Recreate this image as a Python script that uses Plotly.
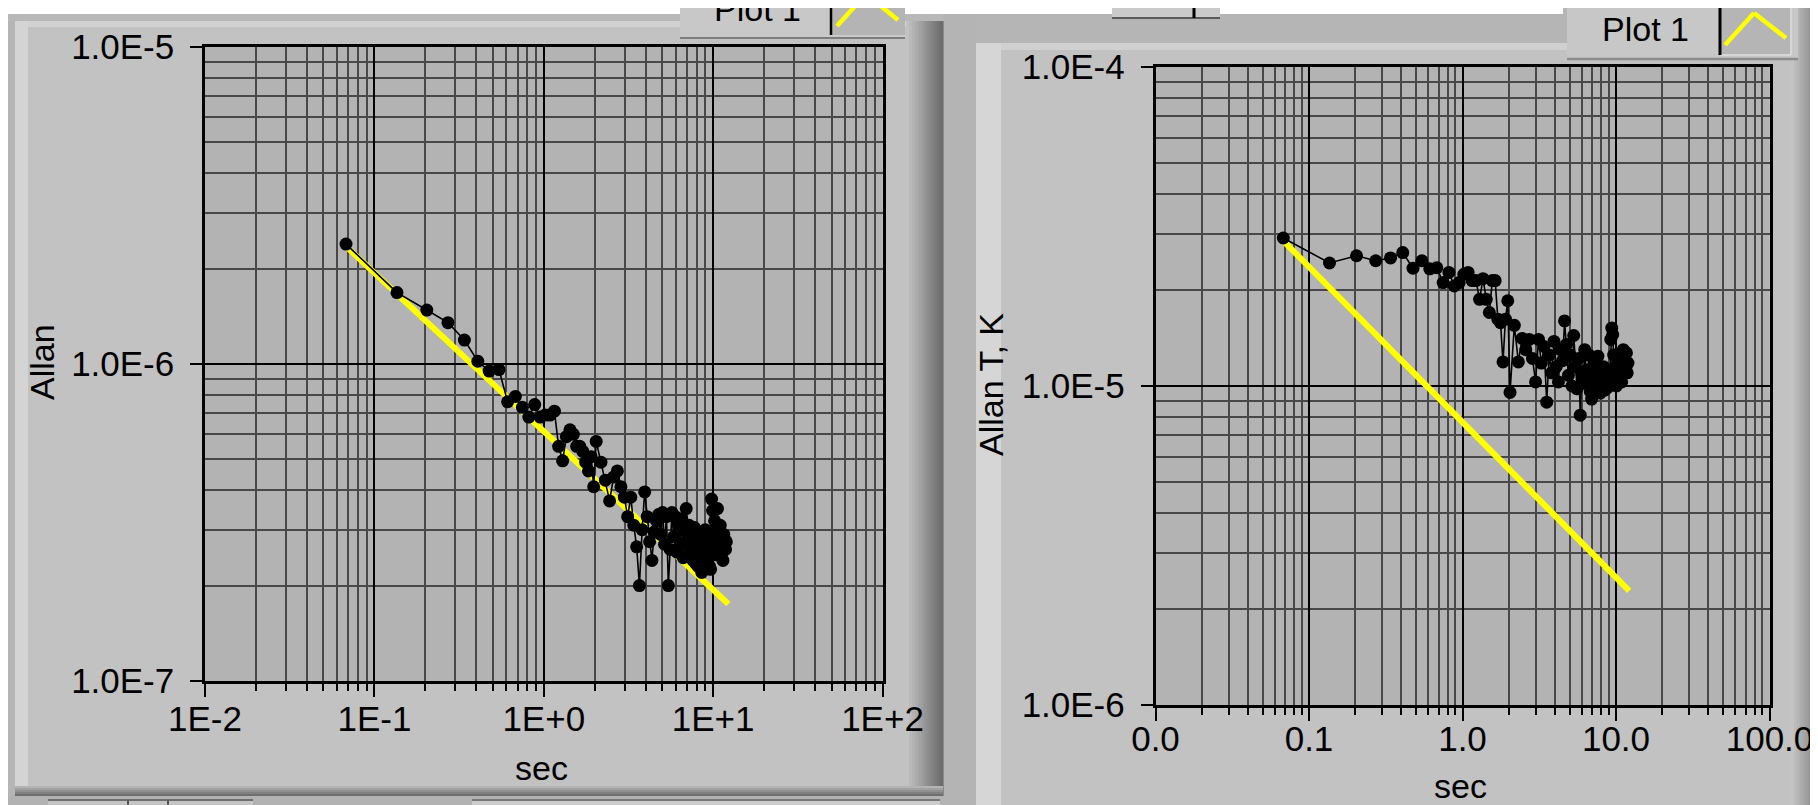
import plotly.graph_objects as go

W, H = 1818, 805

# ---------------- data ----------------
tau = [
    0.068, 0.136, 0.204, 0.272, 0.340, 0.408, 0.476, 0.544, 0.612, 0.680,
    0.748, 0.816, 0.884, 0.952, 1.020, 1.088, 1.156, 1.224, 1.292, 1.360,
    1.428, 1.496, 1.564, 1.632, 1.700, 1.768, 1.836, 1.904, 1.972, 2.040,
    2.176, 2.312, 2.448, 2.584, 2.720, 2.856, 2.992, 3.128, 3.264, 3.400,
    3.536, 3.672, 3.808, 3.944, 4.080, 4.216, 4.352, 4.488, 4.624, 4.760,
    4.896, 5.032, 5.168, 5.304, 5.440, 5.576, 5.712, 5.848, 5.984, 6.120,
    6.256, 6.392, 6.528, 6.664, 6.800, 6.936, 7.072, 7.208, 7.344, 7.480,
    7.616, 7.752, 7.888, 8.024, 8.160, 8.296, 8.432, 8.568, 8.704, 8.840,
    8.976, 9.112, 9.248, 9.384, 9.520, 9.656, 9.792, 9.928, 10.064, 10.200,
    10.336, 10.472, 10.608, 10.744, 10.880, 11.016, 11.152, 11.288, 11.424, 11.560,
    11.696, 11.832, 11.968,
]

allan_left = [
    2.39e-6, 1.68e-6, 1.48e-6, 1.35e-6, 1.19e-6, 1.02e-6, 9.5e-7, 9.6e-7, 7.6e-7, 7.9e-7,
    7.3e-7, 6.8e-7, 7.45e-7, 6.8e-7, 6.9e-7, 6.9e-7, 7.1e-7, 5.5e-7, 4.95e-7, 5.9e-7,
    6.2e-7, 6.0e-7, 5.5e-7, 5.5e-7, 5.3e-7, 4.9e-7, 4.6e-7, 5.1e-7, 4.1e-7, 5.7e-7,
    4.9e-7, 4.3e-7, 3.7e-7, 4.4e-7, 4.6e-7, 4.1e-7, 3.8e-7, 3.3e-7, 3.8e-7, 3.1e-7,
    2.65e-7, 2.0e-7, 3.0e-7, 3.95e-7, 3.3e-7, 2.75e-7, 2.4e-7, 2.95e-7, 3.2e-7, 3.35e-7,
    2.9e-7, 3.4e-7, 2.7e-7, 3.3e-7, 2.0e-7, 2.6e-7, 3.4e-7, 2.85e-7, 3.3e-7, 2.55e-7,
    3.1e-7, 2.7e-7, 3.25e-7, 2.45e-7, 3.0e-7, 3.5e-7, 2.8e-7, 3.1e-7, 2.6e-7, 2.85e-7,
    2.4e-7, 3.05e-7, 2.35e-7, 2.7e-7, 2.3e-7, 2.95e-7, 2.5e-7, 2.2e-7, 2.75e-7, 2.4e-7,
    3.0e-7, 2.6e-7, 2.35e-7, 2.8e-7, 2.3e-7, 2.25e-7, 3.75e-7, 3.45e-7, 2.7e-7, 3.2e-7,
    2.5e-7, 2.9e-7, 3.5e-7, 3.0e-7, 2.6e-7, 3.1e-7, 2.5e-7, 2.75e-7, 2.4e-7, 2.9e-7,
    2.8e-7, 2.6e-7, 2.75e-7,
]

allan_temp = [
    2.91e-5, 2.43e-5, 2.56e-5, 2.47e-5, 2.52e-5, 2.62e-5, 2.34e-5, 2.47e-5, 2.33e-5, 2.35e-5,
    2.11e-5, 2.27e-5, 2.06e-5, 2.11e-5, 2.24e-5, 2.27e-5, 2.14e-5, 2.14e-5, 1.87e-5, 2.17e-5,
    1.87e-5, 1.70e-5, 2.14e-5, 2.14e-5, 1.62e-5, 1.58e-5, 1.19e-5, 1.62e-5, 1.85e-5, 9.55e-6,
    1.55e-5, 1.19e-5, 1.41e-5, 1.30e-5, 1.40e-5, 1.22e-5, 1.03e-5, 1.40e-5, 1.18e-5, 1.33e-5,
    8.9e-6, 1.25e-5, 1.10e-5, 1.38e-5, 1.15e-5, 1.03e-5, 1.30e-5, 1.20e-5, 1.60e-5, 1.35e-5,
    1.08e-5, 1.25e-5, 1.00e-5, 1.44e-5, 1.15e-5, 9.8e-6, 1.22e-5, 8.1e-6, 1.10e-5, 1.02e-5,
    1.30e-5, 1.12e-5, 1.05e-5, 1.25e-5, 9.6e-6, 9.1e-6, 1.15e-5, 1.05e-5, 1.20e-5, 9.8e-6,
    1.24e-5, 1.10e-5, 9.5e-6, 1.08e-5, 1.00e-5, 1.15e-5, 9.7e-6, 1.05e-5, 1.12e-5, 9.9e-6,
    1.08e-5, 1.02e-5, 1.40e-5, 1.52e-5, 1.45e-5, 1.25e-5, 1.05e-5, 1.15e-5, 1.00e-5, 1.10e-5,
    1.20e-5, 1.03e-5, 1.08e-5, 1.25e-5, 1.03e-5, 1.15e-5, 1.30e-5, 1.12e-5, 1.22e-5, 1.19e-5,
    1.27e-5, 1.10e-5, 1.18e-5,
]

fit_tau_left = [0.068, 0.7, 3.0, 12.3]
fit_left = [2.35e-6, 7.32e-7, 3.54e-7, 1.75e-7]
fit_tau_right = [0.068, 0.6, 3.0, 12.2]
fit_right = [2.85e-5, 9.9e-6, 4.5e-6, 2.28e-6]

x_ticks = [0.01, 0.1, 1, 10, 100]
x_text_left = ["1E-2", "1E-1", "1E+0", "1E+1", "1E+2"]
x_text_right = ["0.0", "0.1", "1.0", "10.0", "100.0"]
y_ticks_left = [1e-7, 1e-6, 1e-5]
y_text_left = ["1.0E-7", "1.0E-6", "1.0E-5"]
y_ticks_right = [1e-6, 1e-5, 1e-4]
y_text_right = ["1.0E-6", "1.0E-5", "1.0E-4"]

# ---------------- styling ----------------
FONT = "Liberation Sans"
FS = 35
YELLOW = "#ffff00"
PANEL = "rgb(194,194,194)"
PLOTBG = "rgb(179,179,179)"
MINOR = "rgb(72,72,72)"


def px(x):
    return x / W


def py(y):
    return 1 - y / H


def gray(v):
    return f"rgb({v},{v},{v})"


shapes = []


def rect(x0, y0, x1, y1, color, layer="below"):
    shapes.append(dict(type="rect", xref="paper", yref="paper",
                       x0=px(x0), x1=px(x1), y0=py(y1), y1=py(y0),
                       fillcolor=color, line=dict(width=0), layer=layer))


def hgrad(x0, x1, y0, y1, v0, v1, n):
    step = (x1 - x0) / n
    for i in range(n):
        v = round(v0 + (v1 - v0) * i / (n - 1))
        rect(x0 + i * step, y0, x0 + (i + 1) * step + 0.6, y1, gray(v))


def vgrad(x0, x1, y0, y1, v0, v1, n):
    step = (y1 - y0) / n
    for i in range(n):
        v = round(v0 + (v1 - v0) * i / (n - 1))
        rect(x0, y0 + i * step, x1, y0 + (i + 1) * step + 0.6, gray(v))


def seg(x0, y0, x1, y1, color, width, layer="above"):
    shapes.append(dict(type="line", xref="paper", yref="paper",
                       x0=px(x0), y0=py(y0), x1=px(x1), y1=py(y1),
                       line=dict(color=color, width=width), layer=layer))


# window background pieces
rect(0, 0, 7, 805, gray(181))
rect(0, 0, 935, 13, gray(184))
rect(935, 0, 968, 805, gray(180))
rect(968, 0, 1818, 35, gray(181))
# left panel bevels / highlights
rect(7, 13, 20, 782, gray(212))
rect(20, 13, 900, 19, gray(210))
hgrad(898, 935, 13, 788, 194, 108, 12)
vgrad(7, 935, 778, 788, 180, 110, 5)
# strip below left panel
rect(0, 788, 935, 805, gray(178))
rect(40, 792, 245, 805, gray(196))
seg(40, 792, 245, 792, gray(110), 2, "below")
seg(120, 792, 120, 805, gray(90), 2, "below")
seg(160, 792, 160, 805, gray(90), 2, "below")
rect(464, 792, 932, 805, gray(205))
seg(464, 792, 932, 792, gray(120), 2, "below")
# right panel bevels / highlights
rect(968, 35, 993, 805, gray(214))
rect(993, 35, 1785, 42, gray(208))
hgrad(1783, 1818, 0, 805, 196, 112, 12)
rect(985, 799, 1783, 805, gray(206))
seg(985, 799, 1783, 799, gray(130), 1.5, "below")
# top white strip
rect(0, 0, 1555, 6, "white")
# small control at the top
rect(1104, 0, 1212, 10, gray(202))
seg(1104, 10, 1212, 10, gray(90), 2, "below")
seg(1186, 0, 1186, 10, "black", 3, "below")

# left legend ("Plot 1" box, partly cut off)
rect(672, 0, 897, 31, gray(200))
seg(672, 30, 897, 30, gray(125), 2, "below")
rect(823, 0, 897, 27, gray(180))
seg(823, 0, 823, 27, "black", 2.5, "below")
seg(829, 18, 858, -14, YELLOW, 4.5)
seg(858, -14, 890, 12, YELLOW, 4.5)
# right legend
rect(1559, 0, 1790, 52, gray(199))
seg(1559, 51, 1790, 51, gray(140), 2.5, "below")
rect(1712, 0, 1783, 47, gray(181))
seg(1783, 0, 1783, 47, gray(215), 2, "below")
seg(1712, 47, 1783, 47, gray(215), 2, "below")
seg(1712, 0, 1712, 47, "black", 3, "below")
seg(1717, 37, 1746, 5, YELLOW, 4.5)
seg(1746, 5, 1778, 30, YELLOW, 4.5)


def label(text, x, y, angle=0, size=34):
    return dict(text=text, x=px(x), y=py(y), xref="paper", yref="paper",
                showarrow=False, xanchor="center", yanchor="middle",
                textangle=angle, font=dict(family=FONT, size=size, color="black"))


annotations = [
    label("Allan", 34, 354, angle=-90),
    label("sec", 533, 760),
    label("Allan T, K", 983, 377, angle=-90),
    label("sec", 1452, 778),
    label("Plot 1", 749, 1),
    label("Plot 1", 1637, 21),
]

minor_x = [m * 10.0 ** e for e in range(-2, 2) for m in range(2, 10)]
minor_y_left = [m * 10.0 ** e for e in (-7, -6) for m in range(2, 10)]
minor_y_right = [m * 10.0 ** e for e in (-6, -5) for m in range(2, 10)]


def xaxis(domain, anchor, ticktext, standoff):
    return dict(type="log", domain=domain, anchor=anchor, range=[-2, 2],
                tickmode="array", tickvals=x_ticks, ticktext=ticktext,
                ticks="outside", ticklen=13, tickwidth=2, tickcolor="black",
                ticklabelstandoff=standoff,
                tickfont=dict(family=FONT, size=FS, color="black"),
                showgrid=True, gridcolor="black", gridwidth=2.2,
                showline=True, linecolor="black", linewidth=2.5, mirror=True,
                zeroline=False, fixedrange=True,
                minor=dict(tickmode="array", tickvals=minor_x, ticks="outside",
                           ticklen=7, tickwidth=2, tickcolor="black",
                           showgrid=True, gridcolor=MINOR, gridwidth=2))


def yaxis(domain, anchor, rng, tickvals, ticktext, minor_vals):
    return dict(type="log", domain=domain, anchor=anchor, range=rng,
                tickmode="array", tickvals=tickvals, ticktext=ticktext,
                ticks="outside", ticklen=12, tickwidth=2, tickcolor="black",
                ticklabelstandoff=9,
                tickfont=dict(family=FONT, size=FS, color="black"),
                showgrid=True, gridcolor="black", gridwidth=2.2,
                showline=True, linecolor="black", linewidth=2.5, mirror=True,
                zeroline=False, fixedrange=True,
                minor=dict(tickmode="array", tickvals=minor_vals, ticks="",
                           showgrid=True, gridcolor=MINOR, gridwidth=2))


fig = go.Figure()
fig.add_trace(go.Scatter(x=fit_tau_left, y=fit_left, mode="lines",
                         line=dict(color=YELLOW, width=6),
                         xaxis="x", yaxis="y", hoverinfo="skip"))
fig.add_trace(go.Scatter(x=tau, y=allan_left, mode="lines+markers",
                         line=dict(color="black", width=1.6),
                         marker=dict(size=13, color="black"),
                         xaxis="x", yaxis="y"))
fig.add_trace(go.Scatter(x=fit_tau_right, y=fit_right, mode="lines",
                         line=dict(color=YELLOW, width=6),
                         xaxis="x2", yaxis="y2", hoverinfo="skip"))
fig.add_trace(go.Scatter(x=tau, y=allan_temp, mode="lines+markers",
                         line=dict(color="black", width=1.6),
                         marker=dict(size=13, color="black"),
                         xaxis="x2", yaxis="y2"))

fig.update_layout(
    template="none",
    width=W, height=H, autosize=False,
    margin=dict(l=0, r=0, t=0, b=0, pad=0),
    paper_bgcolor=PANEL, plot_bgcolor=PLOTBG,
    showlegend=False,
    xaxis=xaxis([197 / W, 874.5 / W], "y", x_text_left, -8),
    yaxis=yaxis([1 - 673 / H, 1 - 39 / H], "x", [-7, -5], y_ticks_left, y_text_left, minor_y_left),
    xaxis2=xaxis([1147.5 / W, 1761.5 / W], "y2", x_text_right, -12),
    yaxis2=yaxis([1 - 697 / H, 1 - 59 / H], "x2", [-6, -4], y_ticks_right, y_text_right, minor_y_right),
    shapes=shapes,
    annotations=annotations,
)

fig.write_html("out.html")
